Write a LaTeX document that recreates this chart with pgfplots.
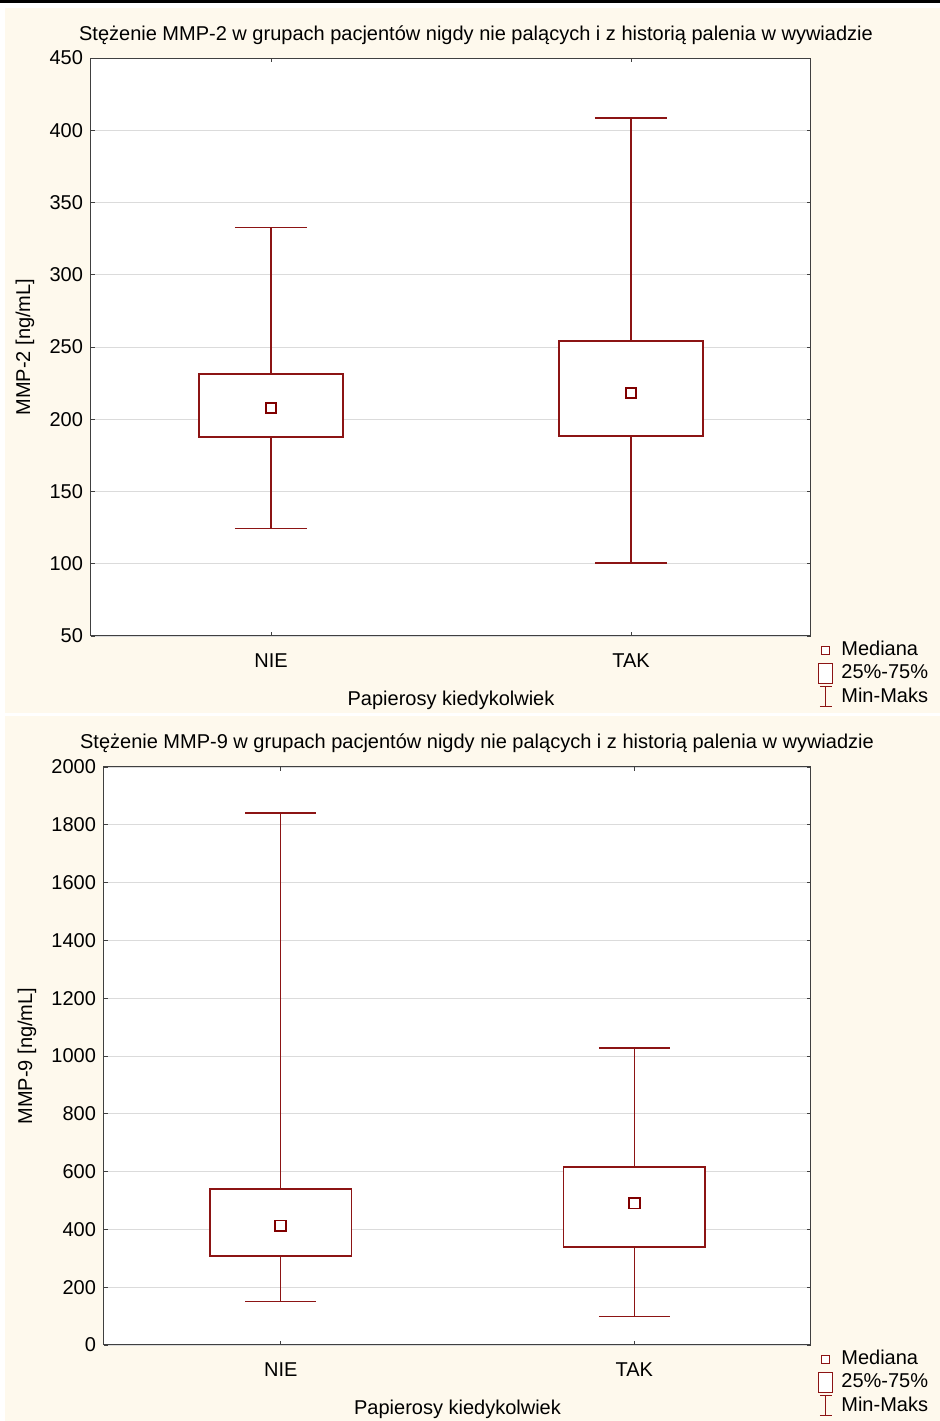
\documentclass[border=0pt]{standalone}
\usepackage{fontspec}
\setmainfont{Liberation Sans}
\usepackage{pgfplots}
\pgfplotsset{compat=1.18}
\definecolor{cream}{RGB}{254,249,237}
\definecolor{maroon}{RGB}{140,20,20}
\definecolor{medred}{RGB}{128,0,0}
\newcommand{\ff}{\fontsize{10}{12}\selectfont}
\pgfplotsset{
  mystyle/.style={
    scale only axis,
    anchor=south west,
    axis background/.style={fill=white},
    axis line style={black!75, line width=0.5pt},
    xmin=-0.5, xmax=1.5,
    xtick={0,1}, xticklabels={NIE,TAK},
    tick pos=both, tick align=inside,
    major tick length=2pt,
    tick style={black!75, line width=0.4pt},
    ymajorgrids,
    grid style={black!14, line width=0.4pt},
    tick label style={font=\ff},
    /pgf/number format/assume math mode=true,
    /pgf/number format/1000 sep={},
    label style={font=\ff},
    xticklabel style={yshift=-5.5pt},
    yticklabel style={xshift=-0.5pt},
    legend style={at={(axis description cs:1,0)}, xshift=3pt, anchor=north west, draw=none, fill=none, font=\ff, inner sep=0.5pt, row sep=-1pt,
      /tikz/every odd column/.append style={column sep=2pt}},
    legend cell align=left,
  },
  whisk/.style={forget plot, draw=maroon, line width=0.55pt, no marks},
  mybox/.style={forget plot, draw=maroon, line width=0.6pt, fill=white, no marks, line cap=rect},
  medmark/.style={forget plot, only marks, mark=square*, mark size=2.4pt, mark options={fill=white, draw=medred, line width=0.9pt}},
  leg1/.style={legend image code/.code={\draw[maroon, line width=0.5pt, fill=white] (1.5pt,-2pt) rectangle (5.5pt,2pt);}},
  leg2/.style={legend image code/.code={\draw[maroon, line width=0.5pt, fill=white] (0pt,-5pt) rectangle (7pt,5pt);}},
  leg3/.style={legend image code/.code={\draw[maroon, line width=0.5pt] (0.5pt,-5pt) -- (6.5pt,-5pt) (3.5pt,-5pt) -- (3.5pt,5pt) (0.5pt,5pt) -- (6.5pt,5pt);}},
}
\begin{document}
\begin{tikzpicture}
\useasboundingbox (0pt,0pt) rectangle (470pt,710.5pt);
\fill[black] (0pt,708.75pt) rectangle (470pt,710.5pt);
\fill[cream] (2.5pt,354pt) rectangle (470pt,706.5pt);
\fill[cream] (2.5pt,0pt) rectangle (470pt,352.5pt);
\node[font=\ff] at (238pt,693pt) {Stężenie MMP-2 w grupach pacjentów nigdy nie palących i z historią palenia w wywiadzie};
\node[font=\ff] at (238.5pt,339pt) {Stężenie MMP-9 w grupach pacjentów nigdy nie palących i z historią palenia w wywiadzie};

\begin{axis}[mystyle, at={(45.5pt,392.5pt)}, width=360pt, height=289pt,
  ymin=50, ymax=450, ytick={50,100,...,450},
  ylabel={MMP-2 [ng/mL]}, ylabel style={at={(axis description cs:-0.0917,0.5)}, anchor=center},
  xlabel={Papierosy kiedykolwiek}, xlabel style={at={(axis description cs:0.5,-0.1107)}, anchor=center},
]
\addlegendimage{leg1}
\addlegendimage{leg2}
\addlegendimage{leg3}
% NIE
\addplot[whisk] coordinates {(0,124.7) (0,332.4)};
\addplot[whisk] coordinates {(-0.1,124.7) (0.1,124.7)};
\addplot[whisk] coordinates {(-0.1,332.4) (0.1,332.4)};
\addplot[mybox] coordinates {(-0.2,187.7) (0.2,187.7) (0.2,231.3) (-0.2,231.3) (-0.2,187.7)};
% TAK
\addplot[whisk] coordinates {(1,100.5) (1,408.5)};
\addplot[whisk] coordinates {(0.9,100.5) (1.1,100.5)};
\addplot[whisk] coordinates {(0.9,408.5) (1.1,408.5)};
\addplot[mybox] coordinates {(0.8,188.4) (1.2,188.4) (1.2,254.2) (0.8,254.2) (0.8,188.4)};
\addplot[medmark] coordinates {(0,207.8) (1,218.2)};
\legend{Mediana, 25\%-75\%, Min-Maks}
\end{axis}

\begin{axis}[mystyle, at={(52pt,38pt)}, width=353.5pt, height=289pt,
  ymin=0, ymax=2000, ytick={0,200,...,2000},
  ylabel={MMP-9 [ng/mL]}, ylabel style={at={(axis description cs:-0.109,0.5)}, anchor=center},
  xlabel={Papierosy kiedykolwiek}, xlabel style={at={(axis description cs:0.5,-0.112)}, anchor=center},
]
\addlegendimage{leg1}
\addlegendimage{leg2}
\addlegendimage{leg3}
% NIE
\addplot[whisk] coordinates {(0,152) (0,1840.8)};
\addplot[whisk] coordinates {(-0.1,152) (0.1,152)};
\addplot[whisk] coordinates {(-0.1,1840.8) (0.1,1840.8)};
\addplot[mybox] coordinates {(-0.2,308) (0.2,308) (0.2,539.8) (-0.2,539.8) (-0.2,308)};
% TAK
\addplot[whisk] coordinates {(1,100) (1,1027.7)};
\addplot[whisk] coordinates {(0.9,100) (1.1,100)};
\addplot[whisk] coordinates {(0.9,1027.7) (1.1,1027.7)};
\addplot[mybox] coordinates {(0.8,339) (1.2,339) (1.2,616) (0.8,616) (0.8,339)};
\addplot[medmark, mark size=2.7pt] coordinates {(0,411.8) (1,491)};
\legend{Mediana, 25\%-75\%, Min-Maks}
\end{axis}
\end{tikzpicture}
\end{document}
